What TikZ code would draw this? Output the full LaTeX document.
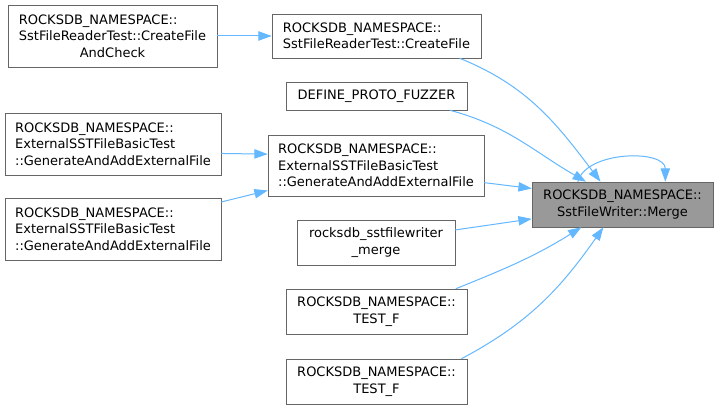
\documentclass[tikz,border=0pt]{standalone}
\usepackage{fontspec}
\setmainfont{DejaVu Sans}
\usepackage{tikz}
\usetikzlibrary{arrows.meta}
\usetikzlibrary{calc,positioning}

\definecolor{edgeblue}{HTML}{63B8FF}
\definecolor{boxgray}{HTML}{666666}
\definecolor{mergegray}{HTML}{999999}

\tikzset{
  fn/.style={draw=boxgray,fill=white,inner sep=0pt,font=\fontsize{9.75}{12.4}\selectfont},
  call/.style={draw=edgeblue,line width=0.75pt,-{Triangle[length=10pt,width=7pt]}}
}

\begin{document}
\begin{tikzpicture}[x=0.75pt,y=-0.75pt]
      \useasboundingbox[fill=white] (0,0) rectangle (719,409);

      % Fonction cible
      \node[fn,fill=mergegray,align=center,minimum width=135.75pt,minimum height=33.75pt] (merge) at (622.5,204.5)
        {ROCKSDB\_NAMESPACE::\\SstFileWriter::Merge};

      % Appelants directs
      \node[fn,align=left,minimum width=156.75pt,minimum height=33pt] (cf) at (376.5,36)
        {ROCKSDB\_NAMESPACE::\\SstFileReaderTest::CreateFile};
      \node[fn,minimum width=135.75pt,minimum height=21pt] (dpf) at (376.5,96) {DEFINE\_PROTO\_FUZZER};
      \node[fn,align=left,minimum width=162pt,minimum height=45.75pt] (extm) at (376,165.5)
        {ROCKSDB\_NAMESPACE::\\ExternalSSTFileBasicTest\\::GenerateAndAddExternalFile};
      \node[fn,align=center,minimum width=118.5pt,minimum height=33.75pt] (rsm) at (376,242.5)
        {rocksdb\_sstfilewriter\\\_merge};
      \node[fn,align=center,minimum width=135.75pt,minimum height=33.75pt] (tfa) at (376.5,311.5)
        {ROCKSDB\_NAMESPACE::\\TEST\_F};
      \node[fn,align=center,minimum width=135.75pt,minimum height=33.75pt] (tfb) at (376.5,381.5)
        {ROCKSDB\_NAMESPACE::\\TEST\_F};

      % Appelants de second niveau
      \node[fn,align=left,minimum width=156.75pt,minimum height=46.5pt] (cfac) at (112.5,36)
        {ROCKSDB\_NAMESPACE::\\SstFileReaderTest::CreateFile\\\null\hfill AndCheck\hfill\null};
      \node[fn,align=left,minimum width=162pt,minimum height=46.5pt] (exta) at (113,144)
        {ROCKSDB\_NAMESPACE::\\ExternalSSTFileBasicTest\\::GenerateAndAddExternalFile};
      \node[fn,align=left,minimum width=162pt,minimum height=46.5pt] (extb) at (113,229)
        {ROCKSDB\_NAMESPACE::\\ExternalSSTFileBasicTest\\::GenerateAndAddExternalFile};

      % Appels
      \draw[call] (cfac.east) -- (cf.west);
      \draw[call] (exta.-5) -- (extm.174);
      \draw[call] (extb.14) -- (extm.-167);
      \draw[call] (cf.-15) to[out=-22,in=127] (merge.134);
      \draw[call] (dpf.-11) to[out=-15,in=150] (merge.148);
      \draw[call] (extm.-9) -- (merge.170);
      \draw[call] (rsm.9) -- (merge.-171);
      \draw[call] (tfa.16) to[out=22,in=-148] (merge.-151);
      \draw[call] (tfb.15) to[out=28,in=-125] (merge.-130);
      \draw[call] (merge.153) to[out=75,in=90,looseness=0.95] (merge.28);
    \end{tikzpicture}
\end{document}
